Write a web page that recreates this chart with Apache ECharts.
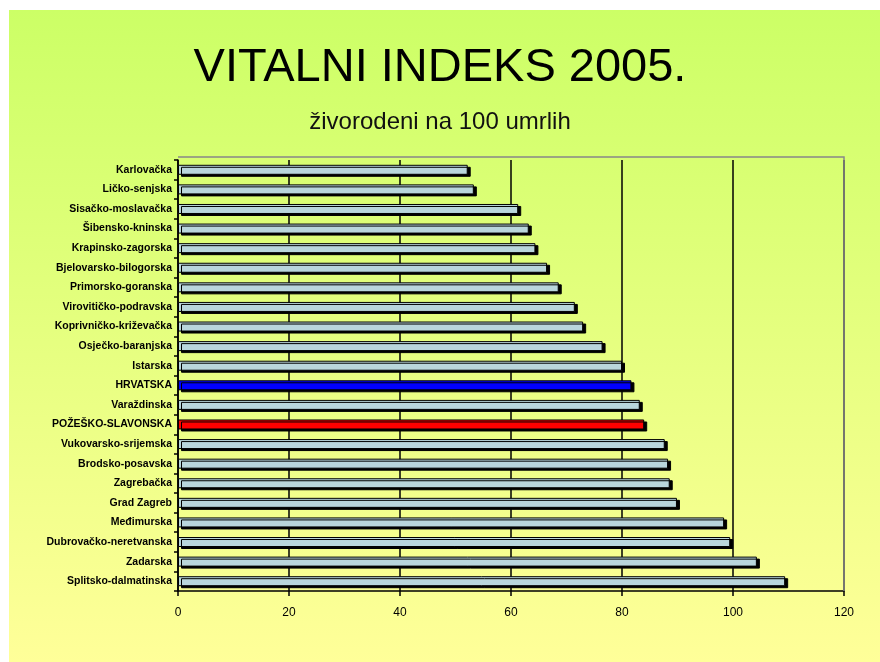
<!DOCTYPE html>
<html>
<head>
<meta charset="utf-8">
<script src="https://cdn.jsdelivr.net/npm/echarts@6/dist/echarts.min.js"></script>
<style>html,body{margin:0;padding:0;background:#fff;}#c{width:880px;height:662px;}</style>
</head>
<body>
<div id="c"></div>
<script>
var categories = ["Karlovačka","Ličko-senjska","Sisačko-moslavačka","Šibensko-kninska","Krapinsko-zagorska","Bjelovarsko-bilogorska","Primorsko-goranska","Virovitičko-podravska","Koprivničko-križevačka","Osječko-baranjska","Istarska","HRVATSKA","Varaždinska","POŽEŠKO-SLAVONSKA","Vukovarsko-srijemska","Brodsko-posavska","Zagrebačka","Grad Zagreb","Međimurska","Dubrovačko-neretvanska","Zadarska","Splitsko-dalmatinska"];
var values = [52.2,53.3,61.3,63.2,64.4,66.5,68.6,71.5,73.0,76.5,80.0,81.7,83.2,84.0,87.7,88.3,88.6,89.9,98.4,99.5,104.3,109.4];
var xTicks = [0,20,40,60,80,100,120];
var highlight = {"HRVATSKA":"#0000ff","POŽEŠKO-SLAVONSKA":"#ff0000"};

var chart = echarts.init(document.getElementById('c'));
var data = categories.map(function(c,i){
  return {value: values[i], itemStyle: {color: highlight[c] || '#b9d6dc'}};
});
chart.setOption({
  animation: false,
  graphic: [{
    type: 'rect', z: -10, silent: true,
    shape: {x: 9, y: 10, width: 871, height: 652},
    style: {fill: new echarts.graphic.LinearGradient(0,0,0,1,[{offset:0,color:'#ccff66'},{offset:1,color:'#ffff99'}])}
  },{
    type: 'polyline', z: 5, silent: true,
    shape: {points: [[178,157],[844,157],[844,591]]},
    style: {stroke: '#888', lineWidth: 1.5, fill: null}
  }],
  title: [{
    text: 'VITALNI INDEKS 2005.', left: 'center', top: 40,
    textStyle: {fontFamily: 'Liberation Sans, Arial, sans-serif', fontSize: 47, fontWeight: 'normal', color: '#000'}
  },{
    text: 'živorodeni na 100 umrlih', left: 'center', top: 105,
    textStyle: {fontFamily: 'Liberation Sans, Arial, sans-serif', fontSize: 24, fontWeight: 'normal', color: '#111'}
  }],
  grid: {left: 178, right: 36, top: 160, bottom: 71},
  xAxis: {
    type: 'value', min: 0, max: 120, interval: 20,
    axisLine: {show: true, lineStyle: {color: '#000', width: 1.5}},
    axisTick: {show: true, length: 5, lineStyle: {color: '#000', width: 1.5}},
    axisLabel: {color: '#000', fontSize: 12, fontFamily: 'Liberation Sans, Arial, sans-serif', margin: 16,
      formatter: function(v){ return xTicks.indexOf(v) >= 0 ? String(v) : ''; }},
    splitLine: {show: true, lineStyle: {color: '#000', width: 1.5}}
  },
  yAxis: {
    type: 'category', data: categories, inverse: true,
    axisLine: {show: true, lineStyle: {color: '#000', width: 1.5}},
    axisTick: {show: true, length: 4, lineStyle: {color: '#000', width: 1.5}},
    axisLabel: {color: '#000', fontSize: 10.5, fontWeight: 'bold', fontFamily: 'Liberation Sans, Arial, sans-serif', margin: 6},
    splitLine: {show: false}
  },
  series: [{
    type: 'bar', data: data, barWidth: 10,
    itemStyle: {borderColor: '#000', borderWidth: 1, shadowColor: '#000', shadowBlur: 0, shadowOffsetX: 3, shadowOffsetY: 2}
  }]
});
</script>
</body>
</html>
